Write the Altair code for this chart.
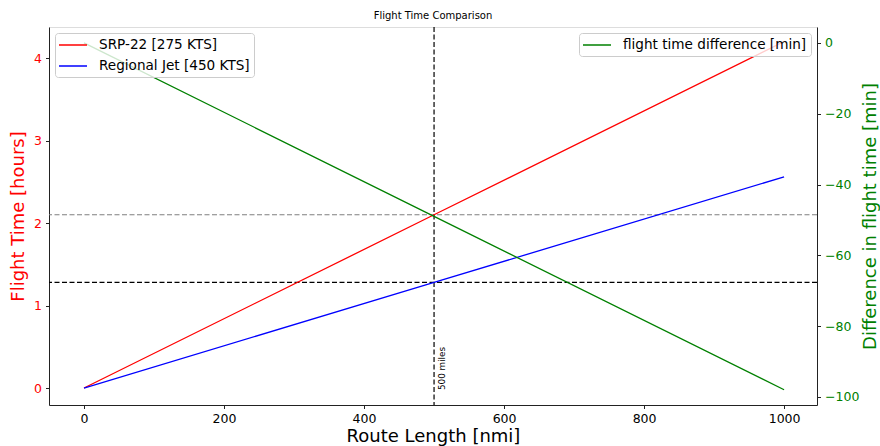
import altair as alt
import pandas as pd

# ---- data ----
route_nmi = [0, 500, 1000]
srp22_hours = [0.0, 2.10, 4.20]
jet_hours = [0.0, 1.28, 2.56]
diff_minutes = [0.0, -49.0, -98.0]
series_names = ["SRP-22 [275 KTS]", "Regional Jet [450 KTS]"]
series_colors = ["#ff0000", "#0000ff"]
diff_name = "flight time difference [min]"
ref_hours = [2.10, 1.28]
ref_colors = ["#808080", "#000000"]
ref_route = [500]
ref_label = ["500 miles"]
x_ticks = [0, 200, 400, 600, 800, 1000]
left_ticks = [0, 1, 2, 3, 4]
right_ticks = [-100, -80, -60, -40, -20, 0]

rows = []
for x, a, b in zip(route_nmi, srp22_hours, jet_hours):
    rows.append({"route": x, "hours": a, "series": series_names[0]})
    rows.append({"route": x, "hours": b, "series": series_names[1]})
hours_df = pd.DataFrame(rows)
diff_df = pd.DataFrame({"route": route_nmi, "diff": diff_minutes,
                        "series": [diff_name] * len(route_nmi)})
href_df = pd.DataFrame({"hours": ref_hours, "c": ref_colors})
vref_df = pd.DataFrame({"route": ref_route, "hours": [0.0], "label": ref_label})

FONT = "DejaVu Sans"
xscale = alt.Scale(domain=[-50, 1047], nice=False, zero=False)
yl_scale = alt.Scale(domain=[-0.206, 4.376], nice=False, zero=False)
yr_scale = alt.Scale(domain=[-102.3, 4.5], nice=False, zero=False)

common_axis = dict(grid=False, domainColor="#222222", tickColor="#222222", tickSize=3.5,
                   labelFont=FONT, labelFontSize=12.5, titleFont=FONT,
                   titleFontSize=18, titleFontWeight="normal", labelPadding=4)

xaxis = alt.Axis(values=x_ticks, title="Route Length [nmi]", format="d",
                 labelColor="black", titleColor="black", titlePadding=2, **common_axis)

legend_common = dict(title=None, symbolType="M-2,0H2", symbolStrokeWidth=1.5,
                     symbolSize=196, labelFont=FONT, labelFontSize=13.6,
                     labelColor="black", fillColor="rgba(255,255,255,0.8)",
                     strokeColor="#cccccc", cornerRadius=3, padding=4,
                     symbolOffset=6, labelOffset=18,
                     rowPadding=6, offset=6, labelLimit=400)

lines = alt.Chart(hours_df).mark_line(strokeWidth=1.3).encode(
    x=alt.X("route:Q", scale=xscale, axis=xaxis),
    y=alt.Y("hours:Q", scale=yl_scale,
            axis=alt.Axis(values=left_ticks, format="d", title="Flight Time [hours]",
                          labelColor="red", titleColor="red", titlePadding=6,
                          **common_axis)),
    color=alt.Color("series:N", scale=alt.Scale(domain=series_names, range=series_colors),
                    legend=alt.Legend(orient="top-left", **legend_common)),
)

hrules = alt.Chart(href_df).mark_rule(strokeDash=[5, 2.5], strokeWidth=1.2).encode(
    y=alt.Y("hours:Q", scale=yl_scale),
    stroke=alt.Stroke("c:N", scale=None),
)

vrule = alt.Chart(vref_df).mark_rule(color="black", strokeDash=[5, 2.5], strokeWidth=1.2).encode(
    x=alt.X("route:Q", scale=xscale),
)

vtext = alt.Chart(vref_df).mark_text(angle=270, align="left", baseline="top", dy=3.5, dx=-2,
                                      font=FONT, fontSize=8.8, color="black").encode(
    x=alt.X("route:Q", scale=xscale),
    y=alt.Y("hours:Q", scale=yl_scale),
    text="label:N",
)

left = alt.layer(hrules, vrule, lines, vtext)

right = alt.Chart(diff_df).mark_line(strokeWidth=1.3).encode(
    x=alt.X("route:Q", scale=xscale, axis=xaxis),
    y=alt.Y("diff:Q", scale=yr_scale,
            axis=alt.Axis(orient="right", values=right_ticks, format="d",
                          title="Difference in flight time [min]",
                          titleAngle=270, titleBaseline="top",
                          labelColor="green", titleColor="green", titlePadding=3,
                          **common_axis)),
    color=alt.Color("series:N", scale=alt.Scale(domain=[diff_name], range=["#008000"]),
                    legend=alt.Legend(orient="top-right", **legend_common)),
)

chart = alt.layer(left, right).resolve_scale(
    y="independent", color="independent"
).properties(
    width=768, height=378,
    title=alt.TitleParams("Flight Time Comparison", font=FONT, fontSize=10,
                          fontWeight="normal", color="black", offset=5),
    padding={"left": 49, "top": 27, "right": 63, "bottom": 41},
    autosize=alt.AutoSizeParams(type="none"),
).configure_view(stroke="#222222", strokeWidth=1).configure(background="white")

chart.save("out.html", embed_options={"renderer": "svg", "actions": False})
